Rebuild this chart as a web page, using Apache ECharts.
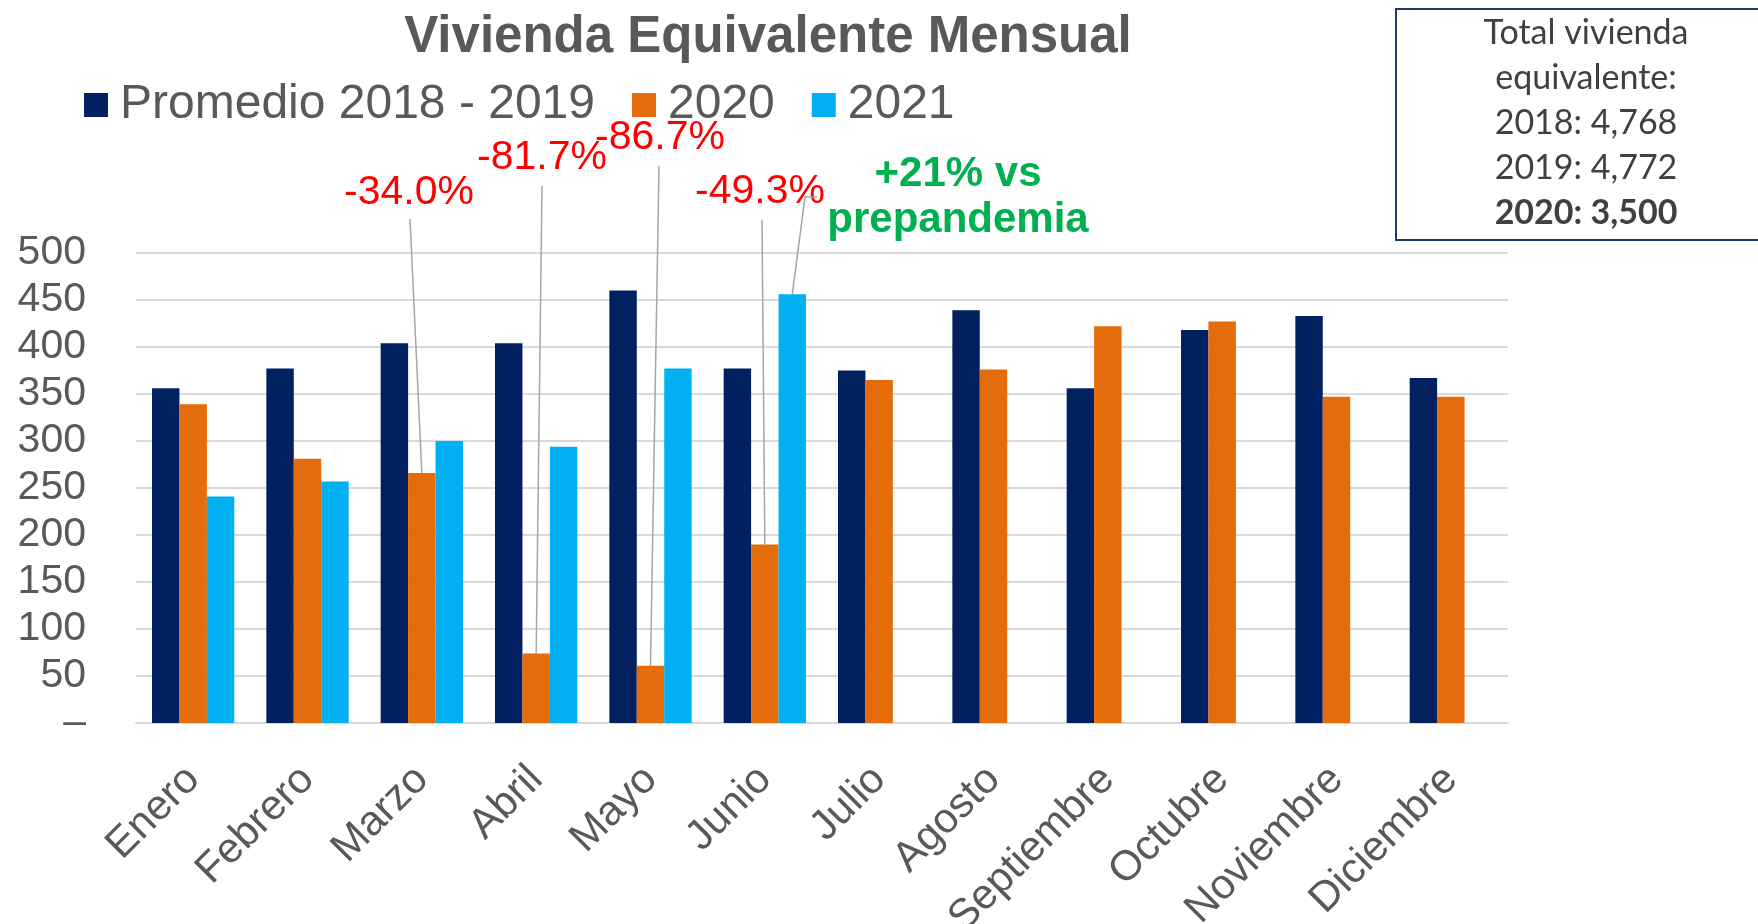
<!DOCTYPE html>
<html>
<head>
<meta charset="utf-8">
<title>Vivienda Equivalente Mensual</title>
<script src="https://cdn.jsdelivr.net/npm/echarts@6/dist/echarts.min.js"></script>
<style>
  html, body { margin: 0; padding: 0; background: #fff; }
  #chart { width: 1758px; height: 924px; }
</style>
</head>
<body>
<div id="chart"></div>
<script>
// datos
const meses = ['Enero', 'Febrero', 'Marzo', 'Abril', 'Mayo', 'Junio', 'Julio', 'Agosto', 'Septiembre', 'Octubre', 'Noviembre', 'Diciembre'];
const promedio1819 = [356, 377, 404, 404, 460, 377, 375, 439, 356, 418, 433, 367];
const anio2020 = [339, 281, 266, 74, 61, 190, 365, 376, 422, 427, 347, 347];
const anio2021 = [241, 257, 300, 294, 377, 456, null, null, null, null, null, null];
const nombresSeries = ['Promedio 2018 - 2019', '2020', '2021'];
const ejeY = { min: 0, max: 500, paso: 50 };
const caidas2020 = ['-34.0%', '-81.7%', '-86.7%', '-49.3%'];
const mesesCaida = ['Marzo', 'Abril', 'Mayo', 'Junio'];
const notaPrepandemia = ['+21% vs', 'prepandemia'];
const totales = ['Total vivienda', 'equivalente:', '2018: 4,768', '2019: 4,772', '2020: 3,500'];

const FONT = '"Liberation Sans", Arial, sans-serif';
const GRIS = '#595959';
const titulo = 'Vivienda Equivalente Mensual';

// medir el titulo para centrarlo en x=768
const ctx = document.createElement('canvas').getContext('2d');
ctx.font = 'bold 51px "Liberation Sans"';
const anchoTitulo = ctx.measureText(titulo).width;

const chart = echarts.init(document.getElementById('chart'));

const option = {
  animation: false,
  backgroundColor: '#fff',
  title: {
    text: titulo,
    left: 768 - anchoTitulo / 2,
    top: 12,
    padding: 0,
    textStyle: { fontFamily: FONT, fontSize: 51, fontWeight: 'bold', color: GRIS }
  },
  legend: {
    data: nombresSeries,
    left: 84,
    top: 81,
    padding: 0,
    icon: 'rect',
    itemWidth: 24,
    itemHeight: 24,
    itemGap: 37,
    textStyle: { fontFamily: FONT, fontSize: 48, color: GRIS, padding: [0, 0, 0, 7] }
  },
  grid: { left: 136, right: 250, top: 253, bottom: 201, outerBoundsMode: 'none' },
  xAxis: {
    type: 'category',
    data: meses,
    axisTick: { show: false },
    axisLine: { lineStyle: { color: '#d9d9d9', width: 2 } },
    axisLabel: {
      interval: 0,
      rotate: 45,
      margin: 50,
      fontFamily: FONT,
      fontSize: 42,
      color: GRIS
    }
  },
  yAxis: {
    type: 'value',
    min: ejeY.min,
    max: ejeY.max,
    interval: ejeY.paso,
    axisLine: { show: false },
    axisTick: { show: false },
    splitLine: { lineStyle: { color: '#d9d9d9', width: 2 } },
    axisLabel: {
      margin: 50,
      fontFamily: FONT,
      fontSize: 41,
      color: GRIS,
      formatter: function (v) { return v === 0 ? '–' : v; }
    }
  },
  series: [
    { name: nombresSeries[0], type: 'bar', data: promedio1819, barGap: '0%', barCategoryGap: '28%', itemStyle: { color: '#002060' } },
    { name: nombresSeries[1], type: 'bar', data: anio2020, itemStyle: { color: '#E46C0A' } },
    { name: nombresSeries[2], type: 'bar', data: anio2021, itemStyle: { color: '#00B0F0' } }
  ]
};
chart.setOption(option);

// punta superior de una barra, segun el layout calculado por echarts
function topeBarra (serie, mes) {
  const idx = meses.indexOf(mes);
  const l = chart.getModel().getSeriesByIndex(serie).getData().getItemLayout(idx);
  return [l.x + l.width / 2, l.y + l.height];
}

const lineaGuia = { stroke: '#a6a6a6', lineWidth: 1.5 };
const textoRojo = { fill: '#FF0000', font: '41px "Liberation Sans"', align: 'center', verticalAlign: 'middle' };
// posiciones de las etiquetas y el inicio de las lineas guia
const posEtiquetas = [[409, 193], [542, 158], [660, 138], [760, 192]];
const inicioGuia = [[410, 219], [542, 186], [659, 166], [762, 220]];

const graficos = [];
caidas2020.forEach((txt, i) => {
  const fin = topeBarra(1, mesesCaida[i]);
  graficos.push({ type: 'text', x: posEtiquetas[i][0], y: posEtiquetas[i][1], style: Object.assign({ text: txt }, textoRojo) });
  graficos.push({ type: 'line', shape: { x1: inicioGuia[i][0], y1: inicioGuia[i][1], x2: fin[0], y2: fin[1] }, style: lineaGuia });
});

// +21% vs prepandemia -> barra 2021 de junio
const finJunio = topeBarra(2, 'Junio');
graficos.push({ type: 'polyline', shape: { points: [[817, 197], [805, 197], finJunio] }, style: Object.assign({ fill: null }, lineaGuia) });
notaPrepandemia.forEach((txt, i) => {
  graficos.push({
    type: 'text', x: 958, y: 174 + i * 46,
    style: { text: txt, fill: '#00B050', font: 'bold 42px "Liberation Sans"', align: 'center', verticalAlign: 'middle' }
  });
});

// recuadro de totales
graficos.push({ type: 'rect', shape: { x: 1396, y: 9, width: 400, height: 231 }, style: { fill: '#fff', stroke: '#1f3864', lineWidth: 2 } });
totales.forEach((txt, i) => {
  graficos.push({
    type: 'text', x: 1586, y: 33 + i * 45,
    style: {
      text: txt, fill: '#404040', align: 'center', verticalAlign: 'middle',
      font: (i === totales.length - 1 ? 'bold ' : '') + '34px Lato'
    }
  });
});

chart.setOption({ graphic: graficos });
</script>
</body>
</html>
